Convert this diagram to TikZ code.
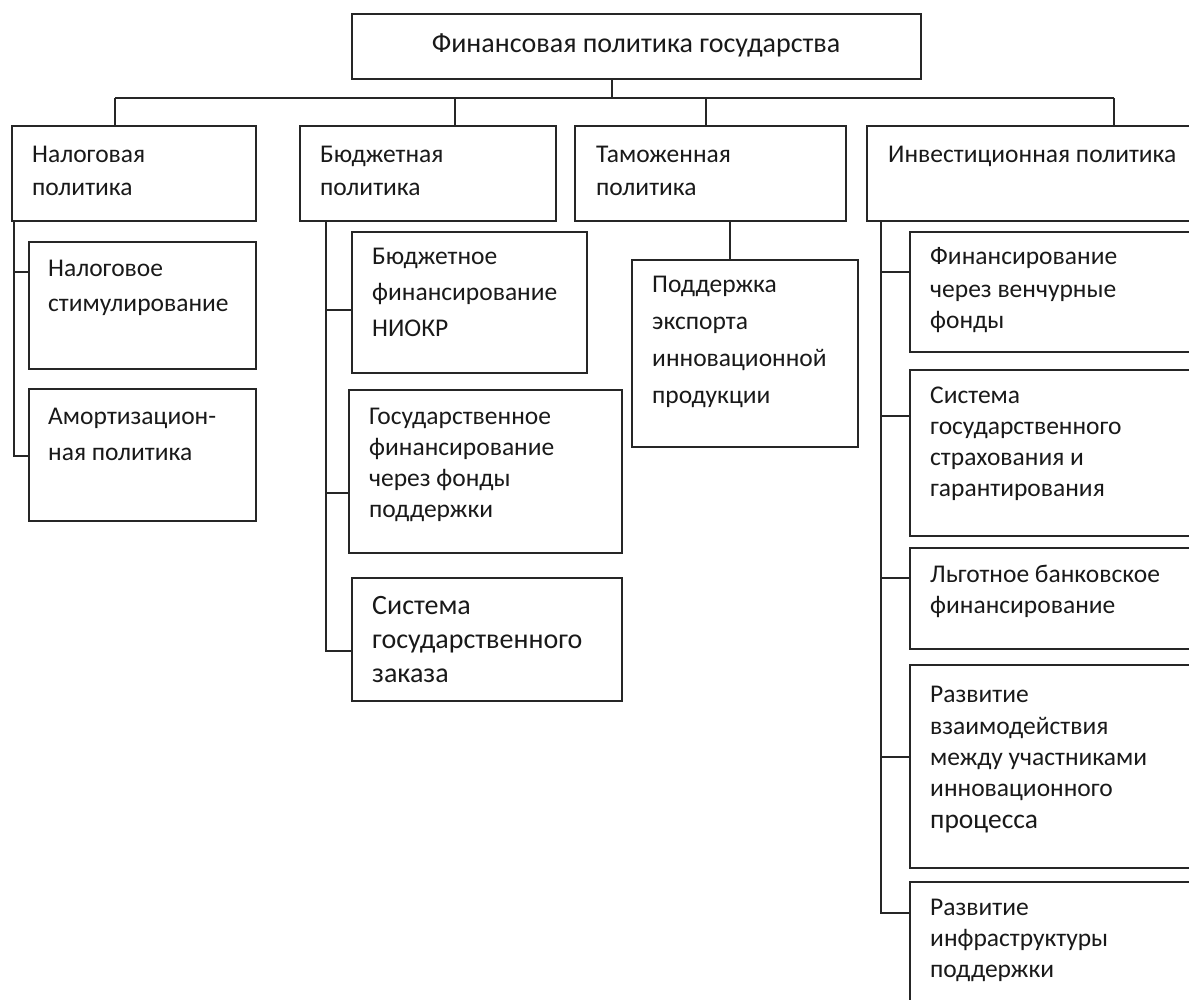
\documentclass[tikz,border=0pt]{standalone}
\usepackage{fontspec}
\setmainfont{Carlito}
\begin{document}
\begin{tikzpicture}[x=1pt,y=-1pt,
  box/.style={draw=black!85, line width=1.5pt, anchor=north west, inner sep=0pt, outer sep=0pt},
  txt/.style={anchor=base west, inner sep=0pt, align=left, text=black!90, font=\fontsize{25.5}{#1}\selectfont},
  txt/.default=35,
  conn/.style={draw=black!85, line width=1.5pt}]
\useasboundingbox (0,0) rectangle (1189,1000);
\clip (0,0) rectangle (1189,1000);
\newcommand\mkbox[5]{\node[box, minimum width={#4-#2}, minimum height={#5-#3}] (#1) at (#2,#3) {};}
% top (text anchors: baseline of the last line)
\mkbox{top}{352}{14}{921}{79}
\node[txt, anchor=base, font=\fontsize{28}{34}\selectfont] (topt) at (636,53) {Финансовая политика государства};
% level 2
\mkbox{n}{12}{126}{256}{221}
\mkbox{b}{300}{126}{556}{221}
\mkbox{t}{575}{126}{846}{221}
\mkbox{i}{867}{126}{1210}{221}
\node[txt=33] (nt) at (32,196) {Налоговая\\политика};
\node[txt=33] (bt) at (320,196) {Бюджетная\\политика};
\node[txt=33] (tt) at (596,196) {Таможенная\\политика};
\node[txt=33] (it) at (888,163) {Инвестиционная политика};
% connectors level 1-2
\coordinate (jT) at (612,98);
\coordinate (dn) at (115,98);
\coordinate (db) at (455,98);
\coordinate (dt) at (706,98);
\coordinate (di) at (1114,98);
\draw[conn] (jT |- top.south) -- (jT);
\draw[conn] (dn) -- (di);
\draw[conn] (dn) -- (dn |- n.north);
\draw[conn] (db) -- (db |- b.north);
\draw[conn] (dt) -- (dt |- t.north);
\draw[conn] (di) -- (di |- i.north);
% tax
\mkbox{n1}{29}{242}{256}{369}
\mkbox{n2}{29}{389}{256}{521}
\node[txt=35] (n1t) at (48,312) {Налоговое\\стимулирование};
\node[txt=36] (n2t) at (48,460) {Амортизацион-\\ная политика};
\coordinate (vn1) at (14,272);
\coordinate (vn2) at (14,456);
\draw[conn] (vn1 |- n.south) -- (vn2) -- (vn2 -| n2.west);
\draw[conn] (vn1) -- (vn1 -| n1.west);
% budget
\mkbox{b1}{352}{232}{587}{373}
\mkbox{b2}{349}{390}{622}{553}
\mkbox{b3}{352}{578}{622}{701}
\node[txt=36] (b1t) at (372,337) {Бюджетное\\финансирование\\НИОКР};
\node[txt=31] (b2t) at (369,517) {Государственное\\финансирование\\через фонды\\поддержки};
\node[txt=34, font=\fontsize{28}{34}\selectfont] (b3t) at (372,682) {Система\\государственного\\заказа};
\coordinate (vb1) at (326,310);
\coordinate (vb2) at (326,493);
\coordinate (vb3) at (326,651);
\draw[conn] (vb1 |- b.south) -- (vb3) -- (vb3 -| b3.west);
\draw[conn] (vb1) -- (vb1 -| b1.west);
\draw[conn] (vb2) -- (vb2 -| b2.west);
% customs
\mkbox{t1}{632}{260}{858}{447}
\node[txt=36.7] (t1t) at (652,403) {Поддержка\\экспорта\\инновационной\\продукции};
\coordinate (vt) at (730,240);
\draw[conn] (vt |- t.south) -- (vt |- t1.north);
% investment
\mkbox{i1}{910}{232}{1210}{352}
\mkbox{i2}{910}{370}{1210}{536}
\mkbox{i3}{910}{548}{1210}{649}
\mkbox{i4}{910}{665}{1210}{868}
\mkbox{i5}{910}{882}{1210}{1020}
\node[txt=32] (i1t) at (930,329) {Финансирование\\через венчурные\\фонды};
\node[txt=31] (i2t) at (930,496) {Система\\государственного\\страхования и\\гарантирования};
\node[txt=31] (i3t) at (930,613) {Льготное банковское\\финансирование};
\node[txt=31.3] (i4t) at (930,828) {Развитие\\взаимодействия\\между участниками\\инновационного\\{\fontsize{27.5}{31}\selectfont процесса}};
\node[txt=31] (i5t) at (930,977) {Развитие\\инфраструктуры\\поддержки};
\coordinate (vi1) at (881,272);
\coordinate (vi2) at (881,416);
\coordinate (vi3) at (881,578);
\coordinate (vi4) at (881,757);
\coordinate (vi5) at (881,913);
\draw[conn] (vi1 |- i.south) -- (vi5) -- (vi5 -| i5.west);
\draw[conn] (vi1) -- (vi1 -| i1.west);
\draw[conn] (vi2) -- (vi2 -| i2.west);
\draw[conn] (vi3) -- (vi3 -| i3.west);
\draw[conn] (vi4) -- (vi4 -| i4.west);
\end{tikzpicture}
\end{document}
